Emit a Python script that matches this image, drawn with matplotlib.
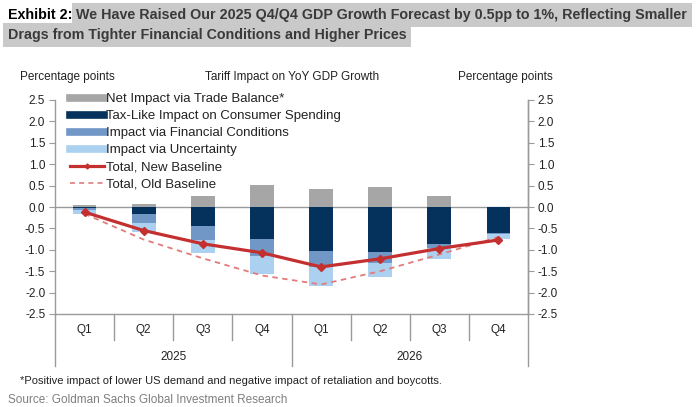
import matplotlib.pyplot as plt
from matplotlib.lines import Line2D
import matplotlib.transforms as mtransforms

# chart data
quarters = ['Q1', 'Q2', 'Q3', 'Q4', 'Q1', 'Q2', 'Q3', 'Q4']
years = ['2025', '2026']
trade = [0.05, 0.06, 0.25, 0.51, 0.43, 0.46, 0.25, 0.0]
tax = [-0.02, -0.17, -0.45, -0.75, -1.03, -1.06, -0.86, -0.61]
fin = [-0.06, -0.20, -0.33, -0.40, -0.37, -0.25, -0.10, -0.02]
unc = [-0.08, -0.22, -0.29, -0.41, -0.44, -0.33, -0.25, -0.12]
new_base = [-0.12, -0.55, -0.86, -1.07, -1.40, -1.21, -0.97, -0.77]
old_base = [-0.16, -0.76, -1.20, -1.60, -1.81, -1.50, -1.11, -0.70]
yticks = [2.5, 2.0, 1.5, 1.0, 0.5, 0.0, -0.5, -1.0, -1.5, -2.0, -2.5]

GREY = '#a6a6a6'
NAVY = '#04325c'
MED = '#7097c6'
LIGHT = '#acd1f0'
RED = '#c3302f'
PINK = '#e27b7b'
AXC = '#9a9a9a'

plt.rcParams['font.family'] = ['Liberation Sans', 'DejaVu Sans']

fig = plt.figure(figsize=(6.96, 4.07), dpi=100)
ax = fig.add_axes([55/696, 1-314/407, 473/696, 214/407])

x = list(range(len(quarters)))
w = 0.4
ax.bar(x, trade, w, color=GREY, zorder=2)
ax.bar(x, tax, w, color=NAVY, zorder=2)
b1 = [t for t in tax]
ax.bar(x, fin, w, bottom=b1, color=MED, zorder=2)
b2 = [t + f for t, f in zip(tax, fin)]
ax.bar(x, unc, w, bottom=b2, color=LIGHT, zorder=2)
ax.axhline(0, color=AXC, lw=1, zorder=1)
ax.plot(x, old_base, color=PINK, lw=1.3, ls=(0, (3, 2.5)), zorder=3)
ax.plot(x, new_base, color=RED, lw=2.3, marker='D', ms=4.5, zorder=4)

ax.set_xlim(-0.5, len(quarters) - 0.5)
ax.set_ylim(-2.5, 2.5)
ax.set_yticks(yticks)
ax.set_yticklabels(['%.1f' % v for v in yticks], fontsize=8.5, color='#222222')
ax.tick_params(axis='y', direction='out', length=4, color=AXC, pad=3)
ax.set_xticks([])
ax.spines['top'].set_visible(False)
for s in ['left', 'right', 'bottom']:
    ax.spines[s].set_color(AXC)
    ax.spines[s].set_linewidth(1)

ax2 = ax.twinx()
ax2.set_ylim(-2.5, 2.5)
ax2.set_yticks(yticks)
ax2.set_yticklabels(['%.1f' % v for v in yticks], fontsize=8.5, color='#222222')
ax2.tick_params(axis='y', direction='out', length=4, color=AXC, pad=3)
for s in ['top', 'left', 'bottom']:
    ax2.spines[s].set_visible(False)
ax2.spines['right'].set_color(AXC)
ax2.spines['right'].set_linewidth(1)

# category axis below the plot
tr = mtransforms.blended_transform_factory(ax.transData, ax.transAxes)
n = len(quarters)
for i in range(n + 1):
    depth = -0.243 if i % 4 == 0 else -0.1215
    ax.plot([i - 0.5, i - 0.5], [0, depth], transform=tr, color=AXC, lw=1, clip_on=False)
for i, q in enumerate(quarters):
    ax.text(i, -0.075, q, transform=tr, ha='center', va='center', fontsize=8.5, color='#222222')
for j, yr in enumerate(years):
    ax.text(j * 4 + 1.5, -0.2, yr, transform=tr, ha='center', va='center', fontsize=8.5, color='#222222')

# legend
handles = [
    Line2D([], [], color=GREY, lw=5.5),
    Line2D([], [], color=NAVY, lw=5.5),
    Line2D([], [], color=MED, lw=5.5),
    Line2D([], [], color=LIGHT, lw=5.5),
    Line2D([], [], color=RED, lw=2.3, marker='D', ms=2.5),
    Line2D([], [], color=PINK, lw=1.2, ls=(0, (3, 2.5))),
]
labels = ['Net Impact via Trade Balance*', 'Tax-Like Impact on Consumer Spending',
          'Impact via Financial Conditions', 'Impact via Uncertainty',
          'Total, New Baseline', 'Total, Old Baseline']
leg = fig.legend(handles, labels, loc='upper left', bbox_to_anchor=(70/696, 1-93/407),
                 frameon=False, fontsize=9.5, handlelength=2.55, handletextpad=0.2,
                 labelspacing=0.36, borderaxespad=0, borderpad=0)
for t in leg.get_texts():
    t.set_color('#222222')

# header texts
fig.text(20/696, 1-77/407, 'Percentage points', fontsize=8.5, va='center', color='#222222')
fig.text(292/696, 1-77/407, 'Tariff Impact on YoY GDP Growth', fontsize=8.5, va='center',
         ha='center', color='#222222')
fig.text(505/696, 1-77/407, 'Percentage points', fontsize=8.5, va='center', ha='center',
         color='#222222')

# title with grey highlight, size fitted so line one ends where it does in the report
HL = '#c9c9c9'
line1 = 'We Have Raised Our 2025 Q4/Q4 GDP Growth Forecast by 0.5pp to 1%, Reflecting Smaller'
line2 = 'Drags from Tighter Financial Conditions and Higher Prices'
fs = 11.0
t0 = fig.text(8/696, 1-15/407, 'Exhibit 2:', fontsize=fs, fontweight='bold', va='center', color='black')
t1 = fig.text(0, 1-15/407, line1, fontsize=fs, fontweight='bold', va='center', color='#3a3a3a')
fig.canvas.draw()
r = fig.canvas.get_renderer()
total = t0.get_window_extent(r).width + 4 + t1.get_window_extent(r).width
fs = fs * (683 - 8) / total
t0.set_fontsize(fs)
t1.set_fontsize(fs)
fig.canvas.draw()
bb = t0.get_window_extent(r)
t1.set_x((bb.x1 + 4) / 696)
t1.set_bbox(dict(facecolor=HL, edgecolor='none', pad=3.5))
fig.text(8/696, 1-35/407, line2, fontsize=fs, fontweight='bold', va='center', color='#3a3a3a',
         bbox=dict(facecolor=HL, edgecolor='none', pad=3.5))

# footnote and source
fig.text(20/696, 1-381/407,
         '*Positive impact of lower US demand and negative impact of retaliation and boycotts.',
         fontsize=8, va='center', color='#222222')
fig.text(8/696, 1-400/407, 'Source: Goldman Sachs Global Investment Research', fontsize=8.5,
         va='center', color='#7f7f7f')

fig.savefig('out.png', dpi=100)
